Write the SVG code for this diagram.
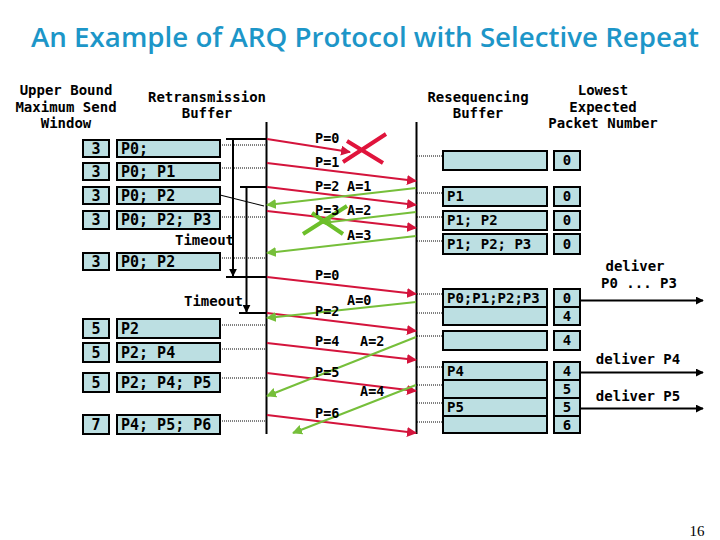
<svg xmlns="http://www.w3.org/2000/svg" width="720" height="540" viewBox="0 0 720 540">
<defs>
<style>
.t{font-family:"DejaVu Sans Mono","Liberation Mono",monospace;font-weight:bold;fill:#000}
.h{font-size:14px;text-anchor:middle}
.b{fill:#bcdfe2;stroke:#000;stroke-width:2}
.lt{font-size:15px}
.rt{font-size:14px}
.lb{font-size:13.5px}
.dot{stroke:#000;stroke-width:1;stroke-dasharray:1 1;fill:none}
.ln{stroke:#000;stroke-width:2;fill:none}
.red{stroke:#d4143c;stroke-width:2;fill:none}
.grn{stroke:#76bf3a;stroke-width:2;fill:none}
</style>
<marker id="mr" viewBox="0 0 10 10" refX="9" refY="5" markerWidth="5" markerHeight="5" orient="auto" markerUnits="strokeWidth"><path d="M0,0 L10,5 L0,10 z" fill="#d4143c"/></marker>
<marker id="mg" viewBox="0 0 10 10" refX="9" refY="5" markerWidth="5" markerHeight="5" orient="auto" markerUnits="strokeWidth"><path d="M0,0 L10,5 L0,10 z" fill="#76bf3a"/></marker>
<marker id="mk" viewBox="0 0 10 10" refX="9" refY="5" markerWidth="4" markerHeight="4" orient="auto" markerUnits="strokeWidth"><path d="M0,0 L10,5 L0,10 z" fill="#000"/></marker>
</defs>
<rect width="720" height="540" fill="#fff"/>
<text x="365" y="47" font-family="'Open Sans','Liberation Sans',sans-serif" font-weight="600" font-size="27" fill="#1d96c8" text-anchor="middle" textLength="668" lengthAdjust="spacingAndGlyphs">An Example of ARQ Protocol with Selective Repeat</text>

<g id="headers" class="t h">
<text x="66" y="95">Upper Bound</text>
<text x="66" y="112">Maximum Send</text>
<text x="66" y="128">Window</text>
<text x="207" y="102">Retransmission</text>
<text x="207" y="118">Buffer</text>
<text x="478" y="102">Resequencing</text>
<text x="478" y="118">Buffer</text>
<text x="603" y="95">Lowest</text>
<text x="603" y="112">Expected</text>
<text x="603" y="128">Packet Number</text>
</g>

<g id="sender-table">
<g id="s1"><rect class="b" x="83" y="140" width="26" height="17"/><rect class="b" x="117" y="140" width="103" height="17"/><text class="t lt" x="96" y="154" text-anchor="middle">3</text><text class="t lt" x="121" y="154">P0;</text></g>
<g id="s2"><rect class="b" x="83" y="163" width="26" height="17"/><rect class="b" x="117" y="163" width="103" height="17"/><text class="t lt" x="96" y="177" text-anchor="middle">3</text><text class="t lt" x="121" y="177">P0; P1</text></g>
<g id="s3"><rect class="b" x="83" y="187" width="26" height="17"/><rect class="b" x="117" y="187" width="103" height="17"/><text class="t lt" x="96" y="201" text-anchor="middle">3</text><text class="t lt" x="121" y="201">P0; P2</text></g>
<g id="s4"><rect class="b" x="83" y="211" width="26" height="18"/><rect class="b" x="117" y="211" width="103" height="18"/><text class="t lt" x="96" y="225" text-anchor="middle">3</text><text class="t lt" x="121" y="225">P0; P2; P3</text></g>
<g id="s5"><rect class="b" x="83" y="253" width="26" height="17"/><rect class="b" x="117" y="253" width="103" height="17"/><text class="t lt" x="96" y="267" text-anchor="middle">3</text><text class="t lt" x="121" y="267">P0; P2</text></g>
<g id="s6"><rect class="b" x="83" y="319" width="26" height="19"/><rect class="b" x="117" y="319" width="103" height="19"/><text class="t lt" x="96" y="334" text-anchor="middle">5</text><text class="t lt" x="121" y="334">P2</text></g>
<g id="s7"><rect class="b" x="83" y="343" width="26" height="19"/><rect class="b" x="117" y="343" width="103" height="19"/><text class="t lt" x="96" y="358" text-anchor="middle">5</text><text class="t lt" x="121" y="358">P2; P4</text></g>
<g id="s8"><rect class="b" x="83" y="373" width="26" height="19"/><rect class="b" x="117" y="373" width="103" height="19"/><text class="t lt" x="96" y="388" text-anchor="middle">5</text><text class="t lt" x="121" y="388">P2; P4; P5</text></g>
<g id="s9"><rect class="b" x="83" y="415" width="26" height="19"/><rect class="b" x="117" y="415" width="103" height="19"/><text class="t lt" x="96" y="430" text-anchor="middle">7</text><text class="t lt" x="121" y="430">P4; P5; P6</text></g>
<text class="t rt" x="234" y="245" text-anchor="end">Timeout</text>
<text class="t rt" x="243" y="306" text-anchor="end">Timeout</text>
</g>

<g id="receiver-table">
<g id="r1"><rect class="b" x="443" y="151" width="104" height="19"/><rect class="b" x="554" y="151" width="26" height="19"/><text class="t rt" x="567" y="165" text-anchor="middle">0</text></g>
<g id="r2"><rect class="b" x="443" y="187" width="104" height="19"/><rect class="b" x="554" y="187" width="26" height="19"/><text class="t rt" x="447" y="201">P1</text><text class="t rt" x="567" y="201" text-anchor="middle">0</text></g>
<g id="r3"><rect class="b" x="443" y="211" width="104" height="19"/><rect class="b" x="554" y="211" width="26" height="19"/><text class="t rt" x="447" y="225">P1; P2</text><text class="t rt" x="567" y="225" text-anchor="middle">0</text></g>
<g id="r4"><rect class="b" x="443" y="234" width="104" height="20"/><rect class="b" x="554" y="234" width="26" height="20"/><text class="t rt" x="447" y="249">P1; P2; P3</text><text class="t rt" x="567" y="249" text-anchor="middle">0</text></g>
<g id="r5"><rect class="b" x="443" y="289" width="104" height="18"/><rect class="b" x="443" y="307" width="104" height="18"/><rect class="b" x="554" y="289" width="26" height="18"/><rect class="b" x="554" y="307" width="26" height="18"/><text class="t rt" x="447" y="303">P0;P1;P2;P3</text><text class="t rt" x="567" y="303" text-anchor="middle">0</text><text class="t rt" x="567" y="321" text-anchor="middle">4</text></g>
<g id="r6"><rect class="b" x="443" y="331" width="104" height="19"/><rect class="b" x="554" y="331" width="26" height="19"/><text class="t rt" x="567" y="345" text-anchor="middle">4</text></g>
<g id="r7"><rect class="b" x="443" y="362" width="104" height="18"/><rect class="b" x="443" y="380" width="104" height="18"/><rect class="b" x="443" y="398" width="104" height="18"/><rect class="b" x="443" y="416" width="104" height="17"/>
<rect class="b" x="554" y="362" width="26" height="18"/><rect class="b" x="554" y="380" width="26" height="18"/><rect class="b" x="554" y="398" width="26" height="18"/><rect class="b" x="554" y="416" width="26" height="17"/>
<text class="t rt" x="447" y="376">P4</text><text class="t rt" x="447" y="412">P5</text>
<text class="t rt" x="567" y="376" text-anchor="middle">4</text><text class="t rt" x="567" y="394" text-anchor="middle">5</text><text class="t rt" x="567" y="412" text-anchor="middle">5</text><text class="t rt" x="567" y="430" text-anchor="middle">6</text></g>
<text class="t rt" x="635" y="271" text-anchor="middle">deliver</text>
<text class="t rt" x="639" y="288" text-anchor="middle">P0 ... P3</text>
<text class="t rt" x="638" y="364" text-anchor="middle">deliver P4</text>
<text class="t rt" x="638" y="401" text-anchor="middle">deliver P5</text>
</g>

<g id="connectors">
<line class="ln" x1="266.5" y1="122" x2="266.5" y2="434"/>
<line class="ln" x1="416.5" y1="122" x2="416.5" y2="434"/>
<line class="ln" x1="226" y1="139" x2="266" y2="139"/>
<line class="ln" x1="233" y1="139" x2="233" y2="276" marker-end="url(#mk)"/>
<line class="ln" x1="226" y1="277" x2="266" y2="277"/>
<line class="ln" x1="240" y1="187" x2="266" y2="187"/>
<line class="ln" x1="246.5" y1="187" x2="246.5" y2="312" marker-end="url(#mk)"/>
<line class="ln" x1="239" y1="313" x2="266" y2="313"/>
<line stroke="#000" stroke-width="1.2" x1="220" y1="195" x2="264" y2="206"/>
<path class="dot" d="M220,145H266M220,168H266M220,217H266M220,258H266M220,325H266M220,349H266M220,378H266M220,421H266"/>
<path class="dot" d="M417,156H443M417,193H443M417,217H443M417,241H443M417,294H443M417,313H443M417,336H443M417,367H443M417,385H443M417,403H443M417,422H443"/>
<line class="red" x1="267" y1="139" x2="350" y2="152" marker-end="url(#mr)"/>
<line class="red" x1="267" y1="163" x2="416" y2="181" marker-end="url(#mr)"/>
<line class="red" x1="267" y1="187" x2="416" y2="205" marker-end="url(#mr)"/>
<line class="red" x1="267" y1="211" x2="416" y2="228" marker-end="url(#mr)"/>
<line class="red" x1="267" y1="277" x2="416" y2="294" marker-end="url(#mr)"/>
<line class="red" x1="267" y1="313" x2="416" y2="331" marker-end="url(#mr)"/>
<line class="red" x1="267" y1="343" x2="416" y2="360" marker-end="url(#mr)"/>
<line class="red" x1="267" y1="373" x2="416" y2="391" marker-end="url(#mr)"/>
<line class="red" x1="267" y1="415" x2="416" y2="433" marker-end="url(#mr)"/>
<line class="grn" x1="416" y1="188" x2="267" y2="205" marker-end="url(#mg)"/>
<line class="grn" x1="416" y1="212" x2="322" y2="223" marker-end="url(#mg)"/>
<line class="grn" x1="416" y1="236" x2="267" y2="253" marker-end="url(#mg)"/>
<line class="grn" x1="416" y1="302" x2="267" y2="318" marker-end="url(#mg)"/>
<line class="grn" x1="416" y1="337" x2="267" y2="396" marker-end="url(#mg)"/>
<line class="grn" x1="416" y1="385" x2="293" y2="433" marker-end="url(#mg)"/>
<path d="M343,162L386,134M347,141L383,163" stroke="#e0143c" stroke-width="4" fill="none"/>
<path d="M303,234L347,206M312,213L343,234" stroke="#6cbf2a" stroke-width="4" fill="none"/>
<line class="ln" x1="580" y1="300.5" x2="703" y2="300.5" marker-end="url(#mk)"/>
<line class="ln" x1="580" y1="372.5" x2="703" y2="372.5" marker-end="url(#mk)"/>
<line class="ln" x1="580" y1="408.5" x2="703" y2="408.5" marker-end="url(#mk)"/>
</g>

<g id="labels" class="t lb">
<text x="315" y="143">P=0</text>
<text x="315" y="167">P=1</text>
<text x="315" y="191">P=2</text>
<text x="347" y="191">A=1</text>
<text x="315" y="215">P=3</text>
<text x="347" y="215">A=2</text>
<text x="347" y="240">A=3</text>
<text x="315" y="280">P=0</text>
<text x="347" y="305">A=0</text>
<text x="315" y="316">P=2</text>
<text x="315" y="346">P=4</text>
<text x="360" y="346">A=2</text>
<text x="315" y="377">P=5</text>
<text x="360" y="396">A=4</text>
<text x="315" y="418">P=6</text>
</g>
<text x="697" y="536" font-family="'Liberation Serif',serif" font-size="15" text-anchor="middle">16</text>
</svg>
